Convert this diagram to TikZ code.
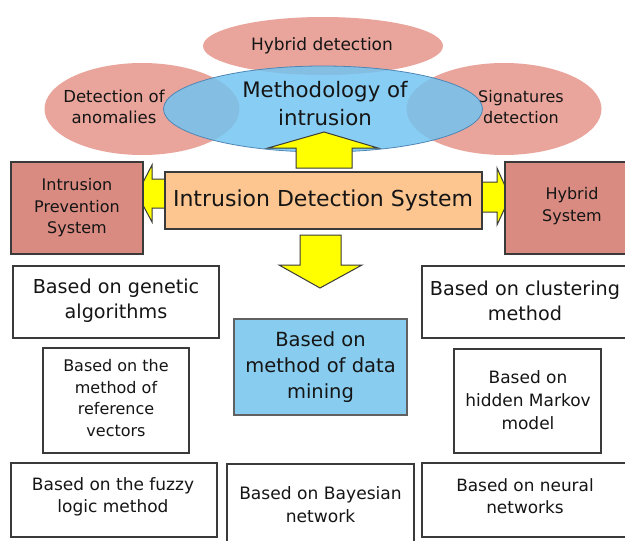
\documentclass[tikz,border=0pt]{standalone}
\usepackage{fontspec}
\setmainfont{DejaVu Sans}
\usetikzlibrary{shapes.geometric}
\definecolor{pinkell}{HTML}{E9A59B}
\definecolor{blueell}{HTML}{6EC4F2}
\definecolor{blueedge}{HTML}{4F86B5}
\definecolor{peach}{HTML}{FDC690}
\definecolor{rosebox}{HTML}{DA8B81}
\definecolor{skybox}{HTML}{88CDEF}
\definecolor{arrowyellow}{HTML}{FFFF00}
\definecolor{txt}{HTML}{151515}
\definecolor{edge}{HTML}{3A3A3A}
\newcommand{\fs}[2]{\fontsize{#1}{#2}\selectfont}
\begin{document}
\begin{tikzpicture}[x=1pt,y=-1pt,
  pinkel/.style={ellipse,fill=pinkell,draw=none,inner sep=0pt},
  lbl/.style={align=center,text=txt,inner sep=0pt},
  plainbox/.style={draw=edge,line width=1.3pt,fill=white},
  blockarrow/.style={fill=arrowyellow,draw=edge,line width=1pt,line join=miter}
]
\useasboundingbox (0,0) rectangle (625,541);
\clip (0,0) rectangle (625,541);
\fill[white] (0,0) rectangle (625,541);

% pink ellipses
\node[pinkel,minimum width=240pt,minimum height=58pt] (hd) at (323,46) {};
\node[pinkel,minimum width=195pt,minimum height=92pt] (an) at (142,109) {};
\node[pinkel,minimum width=195pt,minimum height=92pt] (sg) at (504,109) {};
\node[lbl,font=\fs{17}{21}] (hdt) at (322,46) {Hybrid detection};
\node[lbl,font=\fs{16.5}{21}] (ant) at (114,107) {Detection of\\anomalies};
\node[lbl,font=\fs{16}{21}] (sgt) at (521,107) {Signatures\\detection};

% blue ellipse
\node[ellipse,fill=blueell,fill opacity=0.82,draw=blueedge,line width=0.8pt,
      minimum width=319pt,minimum height=86pt,inner sep=0pt] (me) at (323,109) {};
\node[lbl,font=\fs{21.3}{28}] (met) at (325,104) {Methodology of\\intrusion};

% side arrows (behind IDS box)
\draw[blockarrow] (172,179) -- (152,179) -- (152,165) -- (137,194) -- (152,222) -- (152,208) -- (172,208) -- cycle;
\draw[blockarrow] (475,182) -- (497,182) -- (497,168) -- (510,197) -- (497,225) -- (497,212) -- (475,212) -- cycle;

% central boxes
\node[draw=edge,line width=1.3pt,fill=peach,minimum width=317pt,minimum height=57pt,inner sep=0pt] (ids) at (323.5,200.5) {};
\node[lbl,font=\fs{22}{26}] (idst) at (323,200) {Intrusion Detection System};
\node[draw=edge,line width=1.3pt,fill=rosebox,minimum width=132pt,minimum height=92pt,inner sep=0pt] (ips) at (77,208) {};
\node[lbl,font=\fs{16}{21.5}] (ipst) at (77,208) {Intrusion\\Prevention\\System};
\node[draw=edge,line width=1.3pt,fill=rosebox,minimum width=134pt,minimum height=92pt,inner sep=0pt] (hs) at (572,208) {};
\node[lbl,font=\fs{16}{22}] (hst) at (572,206) {Hybrid\\System};

% up and down arrows
\draw[blockarrow] (296,168) -- (296,148) -- (268,148) -- (324,132) -- (378,148) -- (352,148) -- (352,168) -- cycle;
\draw[blockarrow] (300,235) -- (341,235) -- (341,265) -- (362,265) -- (320,288) -- (279,265) -- (300,265) -- cycle;

% lower boxes
\node[plainbox,minimum width=206pt,minimum height=72pt,inner sep=0pt] (ga) at (116,302) {};
\node[lbl,font=\fs{19.2}{25}] (gat) at (116,301) {Based on genetic\\algorithms};
\node[plainbox,minimum width=146pt,minimum height=105pt,inner sep=0pt] (rv) at (116,400.5) {};
\node[lbl,font=\fs{16}{21.7}] (rvt) at (116,398) {Based on the\\method of\\reference\\vectors};
\node[draw=edge!80,line width=1.3pt,fill=skybox,minimum width=173pt,minimum height=96pt,inner sep=0pt] (dm) at (320.5,367) {};
\node[lbl,font=\fs{19.5}{26}] (dmt) at (320.5,367) {Based on\\method of data\\mining};
\node[plainbox,minimum width=218pt,minimum height=72pt,inner sep=0pt] (cl) at (531,302) {};
\node[lbl,font=\fs{19.2}{25}] (clt) at (525,301) {Based on clustering\\method};
\node[plainbox,minimum width=147pt,minimum height=104pt,inner sep=0pt] (hm) at (527.5,401) {};
\node[lbl,font=\fs{17}{23}] (hmt) at (528,400) {Based on\\hidden Markov\\model};
\node[plainbox,minimum width=206pt,minimum height=74pt,inner sep=0pt] (fz) at (114,500) {};
\node[lbl,font=\fs{17}{22}] (fzt) at (113,497) {Based on the fuzzy\\logic method};
\node[plainbox,minimum width=187pt,minimum height=96pt,inner sep=0pt] (bn) at (320.5,512) {};
\node[lbl,font=\fs{17.1}{23}] (bnt) at (320.5,505) {Based on Bayesian\\network};
\node[plainbox,minimum width=218pt,minimum height=74pt,inner sep=0pt] (nn) at (531,500) {};
\node[lbl,font=\fs{16.9}{22}] (nnt) at (525,496) {Based on neural\\networks};
\end{tikzpicture}
\end{document}
